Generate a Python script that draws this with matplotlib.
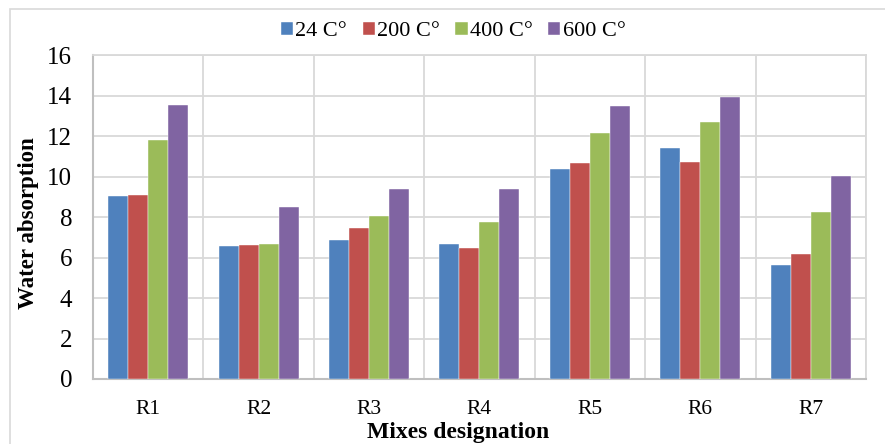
import matplotlib.pyplot as plt
import numpy as np
from matplotlib.patches import Rectangle

plt.rcParams['font.family'] = ['Liberation Serif', 'DejaVu Serif']

# data
mixes = ['R1', 'R2', 'R3', 'R4', 'R5', 'R6', 'R7']
series_names = ['24 C°', '200 C°', '400 C°', '600 C°']
w24 = [9.05, 6.57, 6.88, 6.67, 10.37, 11.41, 5.65]
w200 = [9.09, 6.60, 7.46, 6.47, 10.65, 10.73, 6.19]
w400 = [11.79, 6.67, 8.05, 7.77, 12.13, 12.67, 8.26]
w600 = [13.55, 8.49, 9.37, 9.37, 13.46, 13.93, 10.02]
colors = ['#4F81BD', '#C0504D', '#9BBB59', '#8064A2']

fig = plt.figure(figsize=(8.85, 4.44), dpi=100)
ax = fig.add_axes([0.105, 0.1464, 0.8735, 0.7296])

# chart border
fig.patches.append(Rectangle((10/885, -0.1), 1.2, 1 - 9/444 + 0.1, transform=fig.transFigure,
                             fill=False, edgecolor='#D9D9D9', linewidth=1.2))

x = np.arange(len(mixes))
width = 0.181
for i, (vals, name) in enumerate(zip([w24, w200, w400, w600], series_names)):
    ax.bar(x + (i - 1.5) * width, vals, width, color=colors[i], label=name,
           edgecolor='white', linewidth=0.3, zorder=3)

ax.set_xlim(-0.5, len(mixes) - 0.5)
ax.set_ylim(0, 16)
ax.set_yticks(range(0, 17, 2))
ax.set_xticks(x)
ax.set_xticklabels(mixes)
# vertical gridlines between categories
ax.set_xticks(np.arange(-0.5, len(mixes)), minor=True)
ax.grid(axis='y', color='#D9D9D9', linewidth=1.3, zorder=0)
ax.grid(axis='x', which='minor', color='#D9D9D9', linewidth=1.3, zorder=0)
ax.grid(axis='x', which='major', visible=False)
ax.set_axisbelow(True)
ax.tick_params(axis='both', which='both', length=0)
ax.tick_params(axis='x', pad=15, labelsize=15.5)
ax.tick_params(axis='y', pad=15, labelsize=18)
for s in ['top', 'right']:
    ax.spines[s].set_color('#D9D9D9')
    ax.spines[s].set_linewidth(1.3)
for s in ['left', 'bottom']:
    ax.spines[s].set_color('#BFBFBF')
    ax.spines[s].set_linewidth(1.5)

fig.text(29/885, 1 - 223/444, 'Water absorption', rotation=90, fontsize=16.5,
         fontweight='bold', ha='center', va='center')
fig.text(458/885, 1 - 438/444, 'Mixes designation', fontsize=17,
         fontweight='bold', ha='center', va='baseline')

ax.legend(loc='center', bbox_to_anchor=(0.466, 1.072), ncol=4, frameon=False,
          fontsize=16, handlelength=0.55, handleheight=0.5, handletextpad=0.1,
          columnspacing=0.7)

plt.savefig('out.png', dpi=100)
